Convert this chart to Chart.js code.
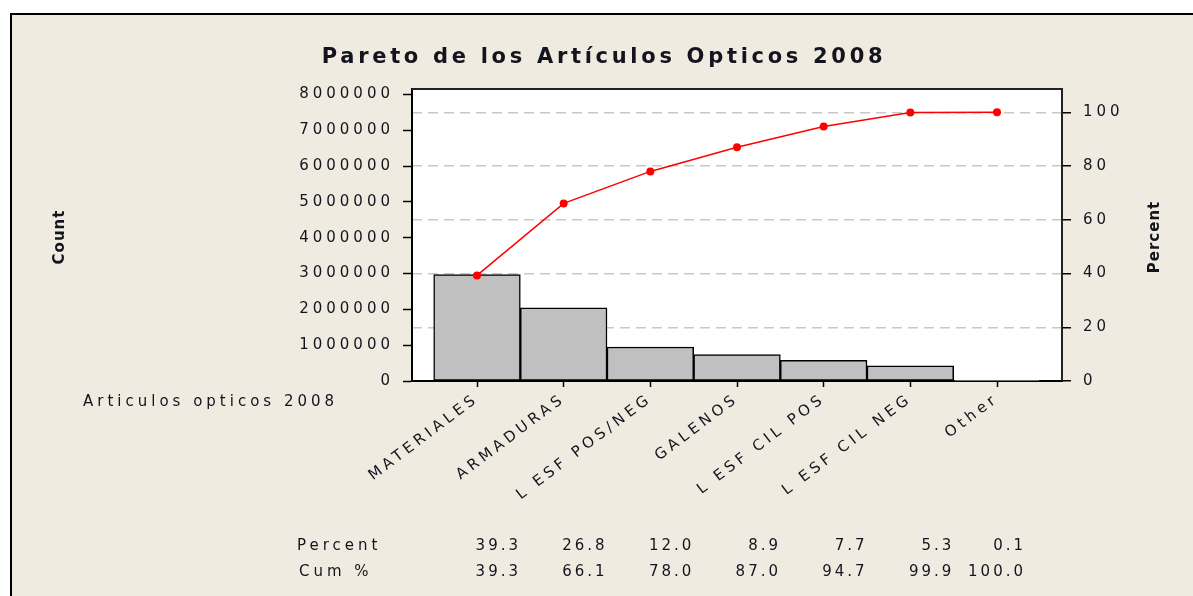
<!DOCTYPE html>
<html><head><meta charset="utf-8">
<script src="https://cdn.jsdelivr.net/npm/chart.js@4.4.1/dist/chart.umd.min.js"></script>
<style>html,body{margin:0;padding:0;background:#fff;overflow:hidden}canvas{display:block}</style>
</head><body>
<canvas id="c" width="1193" height="596"></canvas>
<script>
const categories = ['MATERIALES', 'ARMADURAS', 'L ESF POS/NEG', 'GALENOS', 'L ESF CIL POS', 'L ESF CIL NEG', 'Other'];
const counts = [2970000, 2040000, 950000, 740000, 580000, 420000, 8000];
const percents = [39.3, 26.8, 12.0, 8.9, 7.7, 5.3, 0.1];
const cumPercents = [39.3, 66.1, 78.0, 87.0, 94.7, 99.9, 100.0];
const countTickValues = [0, 1000000, 2000000, 3000000, 4000000, 5000000, 6000000, 7000000, 8000000];
const percentTickValues = [0, 20, 40, 60, 80, 100];
const totalCount = 7500000;
const countAxisMax = 8150000;

const FONT = 'DejaVu Sans';
const TXT = '#14141e';
const BG = '#f0ebe1';

const decor = {
  id: 'decor',
  beforeLayout(chart) { chart.ctx.letterSpacing = '4px'; },
  beforeDraw(chart) {
    const ctx = chart.ctx, a = chart.chartArea;
    ctx.save();
    ctx.fillStyle = '#fff';
    ctx.fillRect(0, 0, chart.width, chart.height);
    ctx.fillStyle = BG;
    ctx.fillRect(10, 13, chart.width - 10, chart.height - 13);
    ctx.strokeStyle = '#000';
    ctx.lineWidth = 2;
    ctx.beginPath();
    ctx.moveTo(11, chart.height); ctx.lineTo(11, 14); ctx.lineTo(chart.width, 14);
    ctx.stroke();
    ctx.fillStyle = '#fff';
    ctx.fillRect(a.left, a.top, a.right - a.left, a.bottom - a.top);
    ctx.restore();
    ctx.letterSpacing = '4px';
  },
  afterDraw(chart) {
    const ctx = chart.ctx, a = chart.chartArea, xs = chart.scales.x;
    ctx.save();
    // frame top & right
    ctx.strokeStyle = '#222';
    ctx.lineWidth = 2;
    ctx.beginPath();
    ctx.moveTo(a.left, a.top); ctx.lineTo(a.right, a.top); ctx.lineTo(a.right, a.bottom);
    ctx.stroke();
    // title
    ctx.fillStyle = TXT;
    ctx.letterSpacing = '3.7px';
    ctx.font = 'bold 21px "' + FONT + '"';
    ctx.textAlign = 'center';
    ctx.textBaseline = 'alphabetic';
    ctx.fillText('Pareto de los Artículos Opticos 2008', 604, 63);
    // axis titles
    ctx.letterSpacing = '1px';
    ctx.font = 'bold 15px "' + FONT + '"';
    ctx.textBaseline = 'middle';
    ctx.save(); ctx.translate(60, 237); ctx.rotate(-Math.PI / 2); ctx.fillText('Count', 0, 0); ctx.restore();
    ctx.save(); ctx.translate(1155, 237); ctx.rotate(-Math.PI / 2); ctx.fillText('Percent', 0, 0); ctx.restore();
    // category caption
    ctx.letterSpacing = '4px';
    ctx.font = '15px "' + FONT + '"';
    ctx.textAlign = 'left';
    ctx.fillText('Articulos opticos 2008', 83, 402);
    // table
    ctx.fillText('Percent', 297, 546);
    ctx.fillText('Cum %', 299, 572);
    ctx.textAlign = 'right';
    ctx.letterSpacing = '3px';
    for (let i = 0; i < categories.length; i++) {
      const xr = xs.getPixelForValue(i) + (i < categories.length - 1 ? 44 : 29);
      ctx.fillText(percents[i].toFixed(1), xr, 546);
      ctx.fillText(cumPercents[i].toFixed(1), xr, 572);
    }
    ctx.restore();
  }
};

new Chart(document.getElementById('c'), {
  type: 'bar',
  data: {
    datasets: [
      {
        type: 'line',
        yAxisID: 'y1',
        data: cumPercents.map((v, i) => ({x: i, y: v})),
        borderColor: '#ff0000',
        backgroundColor: '#ff0000',
        borderWidth: 1.5,
        pointRadius: 4,
        pointBorderWidth: 0,
        pointBackgroundColor: '#ff0000',
        tension: 0,
        order: 0
      },
      {
        type: 'bar',
        yAxisID: 'y',
        data: counts.map((v, i) => ({x: i, y: v})),
        backgroundColor: '#c0c0c0',
        borderColor: '#000',
        borderWidth: 1.5,
        borderSkipped: false,
        barPercentage: 1,
        categoryPercentage: 1,
        order: 1
      }
    ]
  },
  options: {
    responsive: false,
    animation: false,
    devicePixelRatio: 1,
    layout: {padding: {left: 0, right: 0, top: 89, bottom: 95}},
    plugins: {legend: {display: false}, tooltip: {enabled: false}, title: {display: false}},
    scales: {
      x: {
        type: 'linear',
        min: -0.75,
        max: 6.75,
        offset: false,
        afterFit(s) { s.height = 120; },
        afterBuildTicks(s) { s.ticks = categories.map((_, i) => ({value: i})); },
        grid: {display: true, offset: false, drawOnChartArea: false, drawTicks: true, tickLength: 6, tickColor: '#000', tickWidth: 1.5, color: '#000'},
        border: {display: true, color: '#000', width: 2},
        ticks: {
          autoSkip: false,
          minRotation: 37,
          maxRotation: 37,
          padding: 3,
          color: TXT,
          font: {family: FONT, size: 15},
          callback: (v) => categories[v]
        }
      },
      y: {
        position: 'left',
        min: 0,
        max: countAxisMax,
        afterFit(s) { s.width = 412; },
        afterBuildTicks(s) { s.ticks = countTickValues.map(v => ({value: v})); },
        grid: {display: true, drawOnChartArea: false, drawTicks: true, tickLength: 9, tickColor: '#000', tickWidth: 1.5, color: '#000'},
        border: {display: true, color: '#000', width: 2},
        ticks: {padding: 9, color: TXT, font: {family: FONT, size: 15}, callback: (v) => String(v)}
      },
      y1: {
        position: 'right',
        min: 0,
        max: countAxisMax / totalCount * 100,
        afterFit(s) { s.width = 131; },
        afterBuildTicks(s) { s.ticks = percentTickValues.map(v => ({value: v})); },
        grid: {display: true, drawOnChartArea: true, drawTicks: true, tickLength: 9, tickColor: '#000', tickWidth: 1.5, tickBorderDash: [], color: '#c8c8c8', lineWidth: 1.5},
        border: {display: true, color: '#000', width: 2, dash: [10, 6]},
        ticks: {padding: 12, color: TXT, font: {family: FONT, size: 15}, callback: (v) => String(v)}
      }
    }
  },
  plugins: [decor]
});
</script>
</body></html>
